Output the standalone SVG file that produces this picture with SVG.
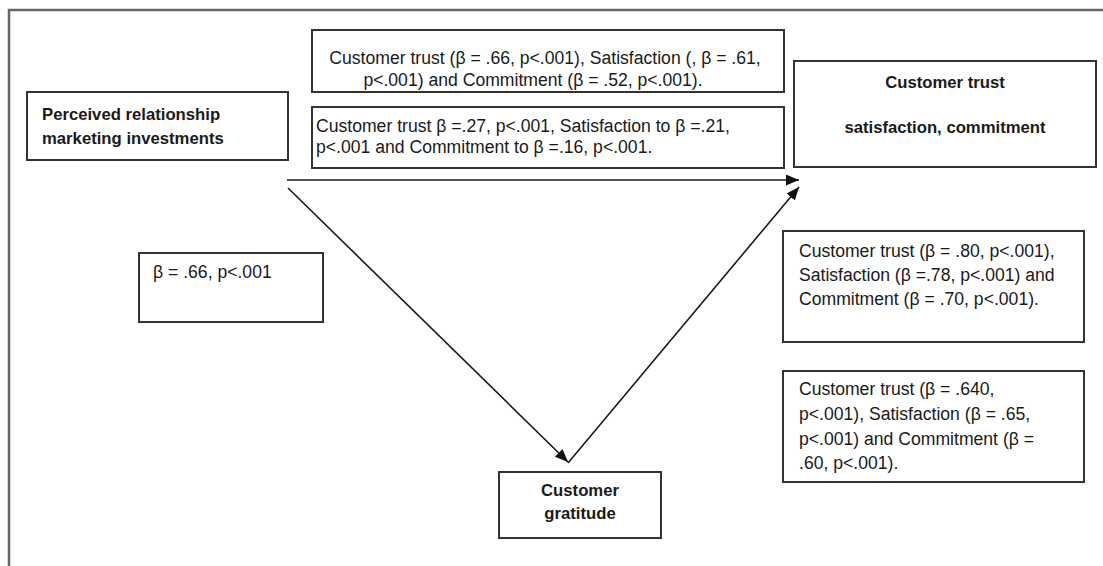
<svg xmlns="http://www.w3.org/2000/svg" width="1103" height="566" viewBox="0 0 1103 566">
  <style>
    .box { fill: #ffffff; stroke: #333333; stroke-width: 2; }
    .frame { fill: none; stroke: #666666; stroke-width: 2.5; }
    .txt { font-family: "Liberation Sans", Arial, sans-serif; font-size: 17.6px; fill: #1a1a1a; }
    .bold { font-family: "Liberation Sans", Arial, sans-serif; font-size: 16.7px; font-weight: bold; fill: #1a1a1a; }
    .mid { text-anchor: middle; }
    .conn { stroke: #1a1a1a; stroke-width: 1.6; fill: none; marker-end: url(#arrow); }
  </style>
  <defs>
    <marker id="arrow" markerUnits="userSpaceOnUse" markerWidth="14" markerHeight="12" refX="13" refY="5.5" orient="auto">
      <path d="M0,0 L13,5.5 L0,11 z" fill="#111111"/>
    </marker>
  </defs>

  <rect width="1103" height="566" fill="#ffffff"/>
  <!-- outer frame (only top and left edges fall inside the canvas) -->
  <path class="frame" d="M9,570 V10 H1110"/>

  <g id="connectors">
    <line class="conn" x1="287" y1="180" x2="799" y2="180"/>
    <line class="conn" x1="288" y1="188" x2="568" y2="462"/>
    <line class="conn" x1="568" y1="463" x2="799" y2="187"/>
  </g>

  <g id="node-investments">
    <rect class="box" x="27" y="92" width="261" height="68"/>
    <text class="bold" x="42" y="120">Perceived relationship</text>
    <text class="bold" x="42" y="144">marketing investments</text>
  </g>

  <g id="label-direct-effects">
    <rect class="box" x="312" y="30" width="472" height="62"/>
    <text class="txt mid" x="545" y="64">Customer trust (β = .66, p&lt;.001), Satisfaction (, β = .61,</text>
    <text class="txt mid" x="533" y="86">p&lt;.001) and Commitment (β = .52, p&lt;.001).</text>
  </g>

  <g id="label-mediated-effects">
    <rect class="box" x="312" y="107" width="472" height="61"/>
    <text class="txt" x="316" y="132">Customer trust β =.27, p&lt;.001, Satisfaction to β =.21,</text>
    <text class="txt" x="316" y="153">p&lt;.001 and Commitment to β =.16, p&lt;.001.</text>
  </g>

  <g id="node-outcomes">
    <rect class="box" x="794" y="61" width="302" height="106"/>
    <text class="bold mid" x="945" y="88">Customer trust</text>
    <text class="bold mid" x="945" y="133">satisfaction, commitment</text>
  </g>

  <g id="label-gratitude-path">
    <rect class="box" x="139" y="253" width="184" height="69"/>
    <text class="txt" x="153" y="278">β = .66, p&lt;.001</text>
  </g>

  <g id="node-gratitude">
    <rect class="box" x="499" y="472" width="162" height="66"/>
    <text class="bold mid" x="580" y="496">Customer</text>
    <text class="bold mid" x="580" y="519">gratitude</text>
  </g>

  <g id="label-gratitude-outcomes">
    <rect class="box" x="783" y="231" width="301" height="111"/>
    <text class="txt" x="799" y="257">Customer trust (β = .80, p&lt;.001),</text>
    <text class="txt" x="799" y="281">Satisfaction (β =.78, p&lt;.001) and</text>
    <text class="txt" x="799" y="305">Commitment (β = .70, p&lt;.001).</text>
  </g>

  <g id="label-total-effects">
    <rect class="box" x="783" y="371" width="301" height="111"/>
    <text class="txt" x="799" y="395">Customer trust (β = .640,</text>
    <text class="txt" x="799" y="420">p&lt;.001), Satisfaction (β = .65,</text>
    <text class="txt" x="799" y="445">p&lt;.001) and Commitment (β =</text>
    <text class="txt" x="799" y="469">.60, p&lt;.001).</text>
  </g>
</svg>
